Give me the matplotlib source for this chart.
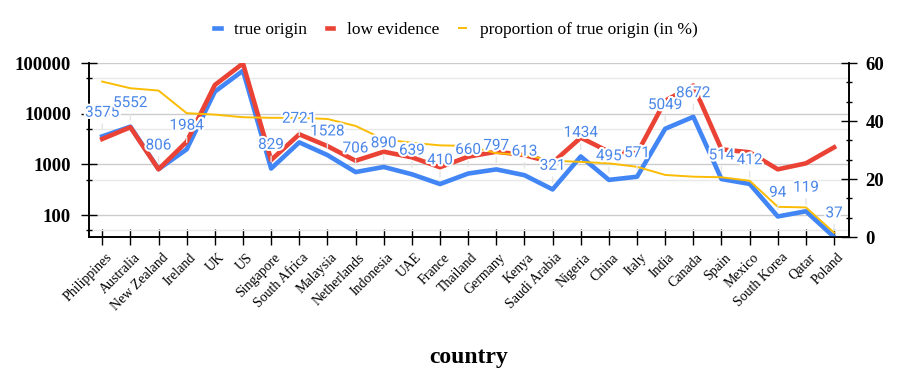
import numpy as np
import matplotlib.pyplot as plt
from matplotlib import patheffects as pe
from matplotlib.transforms import ScaledTranslation

countries = ['Philippines', 'Australia', 'New Zealand', 'Ireland', 'UK', 'US',
             'Singapore', 'South Africa', 'Malaysia', 'Netherlands', 'Indonesia',
             'UAE', 'France', 'Thailand', 'Germany', 'Kenya', 'Saudi Arabia',
             'Nigeria', 'China', 'Italy', 'India', 'Canada', 'Spain', 'Mexico',
             'South Korea', 'Qatar', 'Poland']
true_origin = [3575, 5552, 806, 1984, 27200, 70500, 829, 2721, 1528, 706, 890,
               639, 410, 660, 797, 613, 321, 1434, 495, 571, 5049, 8672, 514,
               412, 94, 119, 37]
low_evidence = [3170, 5400, 800, 2800, 36800, 98000, 1220, 3920, 2300, 1180,
                1780, 1380, 880, 1420, 1780, 1530, 1080, 3370, 1780, 1650,
                18000, 36000, 1980, 1730, 800, 1050, 2170]
proportion = [53.6, 51.3, 50.5, 42.7, 42.2, 41.3, 41.1, 41.1, 40.7, 38.3, 33.7,
              32.5, 31.6, 31.4, 28.9, 28.3, 26.3, 25.9, 25.4, 24.2, 21.4, 20.8,
              20.6, 19.4, 10.4, 10.2, 1.5]
no_label = ['UK', 'US']

blue, red, yellow = '#4285F4', '#EA4335', '#FBBC04'
plt.rcParams['font.family'] = ['Liberation Serif', 'DejaVu Serif']

fig = plt.figure(figsize=(9.11, 3.92), dpi=100)
ax = fig.add_axes([89/911, 1-237/392, (849-89)/911, (237-63)/392])
ax2 = ax.twinx()
x = np.arange(len(countries))

l1, = ax.plot(x, true_origin, color=blue, lw=3.3, label='true origin', zorder=3)
l2, = ax.plot(x, low_evidence, color=red, lw=3.3, label='low evidence', zorder=4)
l3, = ax2.plot(x, proportion, color=yellow, lw=1.4,
               label='proportion of true origin (in %)', zorder=3)

ax.set_yscale('log')
ax.set_ylim(37, 1e5)
ax.set_xlim(-0.47, 26.53)
ax.set_yticks([100, 1000, 10000, 100000])
ax.set_yticklabels(['100', '1000', '10000', '100000'], fontweight='bold', fontsize=13.5)
ax.set_yticks([50, 500, 5000, 50000], minor=True)
ax.set_yticklabels([], minor=True)
ax.grid(which='major', axis='y', color='#cccccc', lw=1)
ax.grid(which='minor', axis='y', color='#e8e8e8', lw=1)
ax.set_axisbelow(True)
ax.tick_params(axis='y', which='major', direction='inout', length=12, width=1, pad=7)
ax.tick_params(axis='y', which='minor', direction='inout', length=5, width=1)

ax.set_xticks(x)
ax.set_xticklabels(countries, rotation=45, ha='right', va='top',
                   rotation_mode='anchor', fontsize=10)
ax.tick_params(axis='x', direction='inout', length=12, width=1, pad=4)
for lab in ax.get_xticklabels():
    lab.set_transform(lab.get_transform() + ScaledTranslation(3/100, 0, fig.dpi_scale_trans))

ax2.set_ylim(0, 60)
ax2.set_yticks([0, 20, 40, 60])
ax2.set_yticklabels(['0', '20', '40', '60'], fontweight='bold', fontsize=13.5)
ax2.set_yticks([v for v in np.arange(0, 61, 20/3) if round(v) % 20 != 0], minor=True)
ax2.tick_params(axis='y', which='major', direction='inout', length=12, width=1, pad=6)
ax2.tick_params(axis='y', which='minor', direction='inout', length=5, width=1)

for a in (ax, ax2):
    a.spines['top'].set_visible(False)
    for s in ('left', 'right', 'bottom'):
        a.spines[s].set_linewidth(1.2)

for i, v in enumerate(true_origin):
    if countries[i] in no_label:
        continue
    ax2.annotate(str(v), xy=(x[i], v), xycoords=ax.transData,
                 xytext=(0, 17), textcoords='offset points',
                 ha='center', va='center', fontsize=11, family='Roboto',
                 color='#4a86e8', zorder=6, annotation_clip=False,
                 path_effects=[pe.withStroke(linewidth=3, foreground='white')],
                 arrowprops=dict(arrowstyle='-', color='#e4e4e4', lw=1,
                                 shrinkA=1, shrinkB=5))

fig.legend(handles=[l1, l2, l3], loc='center', bbox_to_anchor=(0.5, 1-30/392),
           ncol=3, frameon=False, fontsize=12.5, handlelength=0.4,
           handletextpad=0.8, columnspacing=1.1)

fig.text(469/911, 1-357/392, 'country', ha='center', va='center',
         fontsize=17, fontweight='bold')

fig.savefig('out.png', dpi=100)
